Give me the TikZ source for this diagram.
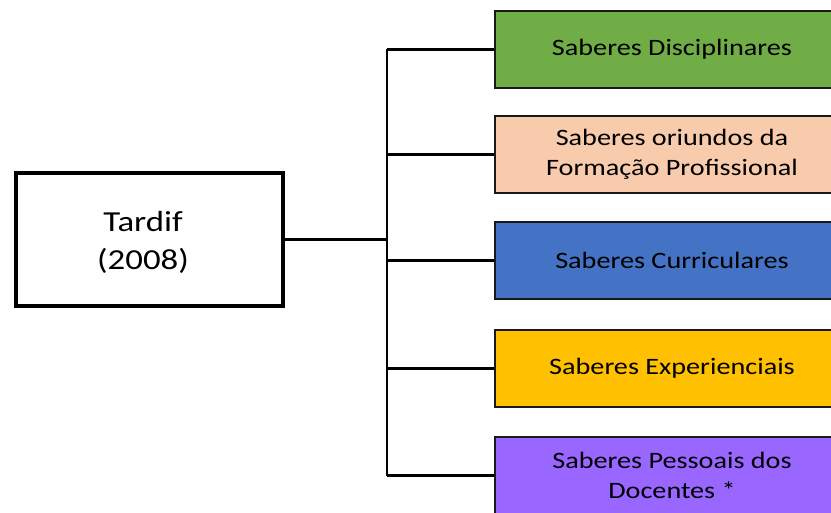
\documentclass[tikz,border=0pt]{standalone}
\usepackage{fontspec}
\setmainfont{Carlito}[FakeStretch=1.2]
\usetikzlibrary{positioning}
\definecolor{verde}{HTML}{70AD47}
\definecolor{pessego}{HTML}{F8CBAD}
\definecolor{azul}{HTML}{4472C4}
\definecolor{ouro}{HTML}{FFC000}
\definecolor{roxo}{HTML}{9966FF}

\begin{document}
\begin{tikzpicture}[
  x=1pt, y=-1pt,
  raiz/.style={draw=black, line width=4.5pt, fill=white, minimum width=267pt, minimum height=133pt},
  saber/.style={draw=black!90, line width=2.6pt, minimum width=354pt, minimum height=77pt,
    align=center, font=\fontsize{23.5}{30}\selectfont},
  liga/.style={line width=2.4pt, draw=black}
]
\clip (0,0) rectangle (831,513);
\useasboundingbox (0,0) rectangle (831,513);

% ---------- Autor ----------
\node[raiz] (tardif) at (149.5,239.5) {};
\node[font=\fontsize{29}{38}\selectfont, align=center] (autor) at (143,242) {Tardif\\(2008)};

% ---------- Saberes ----------
\node[saber, fill=verde] (s1) at (672,49.5) {Saberes Disciplinares};
\node[saber, fill=pessego] (s2) at (672,154.5) {Saberes oriundos da\\Formação Profissional};
\node[saber, fill=azul] (s3) at (672,260.5) {Saberes Curriculares};
\node[saber, fill=ouro] (s4) at (672,368.5) {Saberes Experienciais};
\node[saber, fill=roxo] (s5) at (672,475.5) {Saberes Pessoais dos\\Docentes *};

% ---------- Ligações ----------
\coordinate (tronco) at (387,0);
\draw[liga] (tardif.east) -- (tardif.east -| tronco);
\draw[liga] (s1.west -| tronco) -- (s5.west -| tronco);
\foreach \i in {1,...,5} \draw[liga] (s\i.west -| tronco) -- (s\i.west);

\end{tikzpicture}
\end{document}
